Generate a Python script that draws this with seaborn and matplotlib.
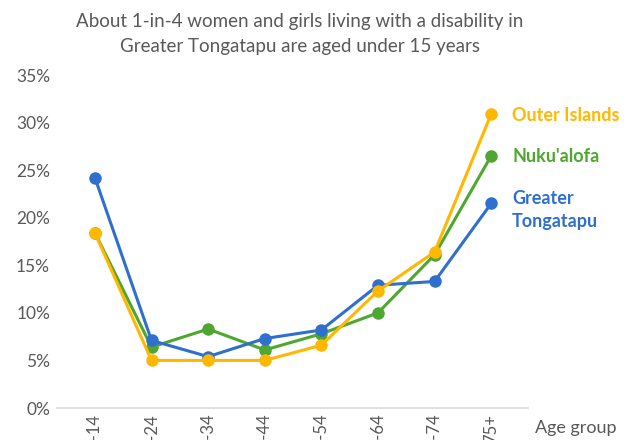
import pandas as pd
import seaborn as sns
import matplotlib.pyplot as plt
from matplotlib.ticker import PercentFormatter

## data
age_groups = ['0-14', '15-24', '25-34', '35-44', '45-54', '55-64', '65-74', '75+']
greater_tongatapu = [24.2, 7.1, 5.4, 7.3, 8.2, 12.9, 13.3, 21.5]
nukualofa = [18.4, 6.4, 8.3, 6.1, 7.8, 10.0, 16.1, 26.5]
outer_islands = [18.4, 5.0, 5.0, 5.0, 6.6, 12.3, 16.4, 30.9]

series_names = ["Nuku'alofa", 'Greater Tongatapu', 'Outer Islands']
series_values = [nukualofa, greater_tongatapu, outer_islands]
colors = {"Nuku'alofa": '#4EA72E', 'Greater Tongatapu': '#2F6FCE', 'Outer Islands': '#FFB700'}
end_labels = {'Outer Islands': 'Outer Islands', "Nuku'alofa": "Nuku'alofa",
              'Greater Tongatapu': 'Greater\nTongatapu'}

rows = []
for name, vals in zip(series_names, series_values):
    for g, v in zip(age_groups, vals):
        rows.append({'age': g, 'share': v, 'area': name})
df = pd.DataFrame(rows)

sns.set_theme(style='white')
plt.rcParams['font.family'] = ['Lato', 'DejaVu Sans']
grey = '#595959'

fig = plt.figure(figsize=(6.3, 4.4), dpi=100)
ax = fig.add_axes([57 / 630, 1 - 408 / 440, 471 / 630, (408 - 75) / 440])

sns.lineplot(data=df, x='age', y='share', hue='area', hue_order=series_names,
             palette=colors, marker='o', markersize=9, markeredgewidth=0,
             linewidth=2.2, sort=False, legend=False, ax=ax)

ax.set_xlim(-0.67, 7.65)
ax.set_ylim(0, 35)
ax.set_yticks(range(0, 36, 5))
ax.yaxis.set_major_formatter(PercentFormatter(decimals=0))
ax.tick_params(axis='y', labelsize=12.5, labelcolor=grey, length=0, pad=5)
ax.tick_params(axis='x', labelsize=12, labelcolor=grey, length=0, pad=4, labelrotation=90)
ax.set_xlabel('')
ax.set_ylabel('')
for s in ['top', 'right', 'left']:
    ax.spines[s].set_visible(False)
ax.spines['bottom'].set_color('#D9D9D9')
ax.spines['bottom'].set_linewidth(1.2)

# labels at the line ends
last = len(age_groups) - 1
ax.text(last + 0.37, 30.7, end_labels['Outer Islands'], color=colors['Outer Islands'],
        fontsize=13, fontweight='bold', va='center', ha='left')
ax.text(last + 0.37, 26.4, end_labels["Nuku'alofa"], color=colors["Nuku'alofa"],
        fontsize=13, fontweight='bold', va='center', ha='left')
ax.text(last + 0.37, 20.8, end_labels['Greater Tongatapu'], color=colors['Greater Tongatapu'],
        fontsize=13, fontweight='bold', va='center', ha='left', linespacing=1.4)

fig.text(535 / 630, 1 - 428 / 440, 'Age group', color=grey, fontsize=13, va='center', ha='left')
fig.text(300 / 630, 1 - 34 / 440,
         'About 1-in-4 women and girls living with a disability in\nGreater Tongatapu are aged under 15 years',
         color=grey, fontsize=13.5, ha='center', va='center', linespacing=1.6)

fig.savefig('out.png', dpi=100)
